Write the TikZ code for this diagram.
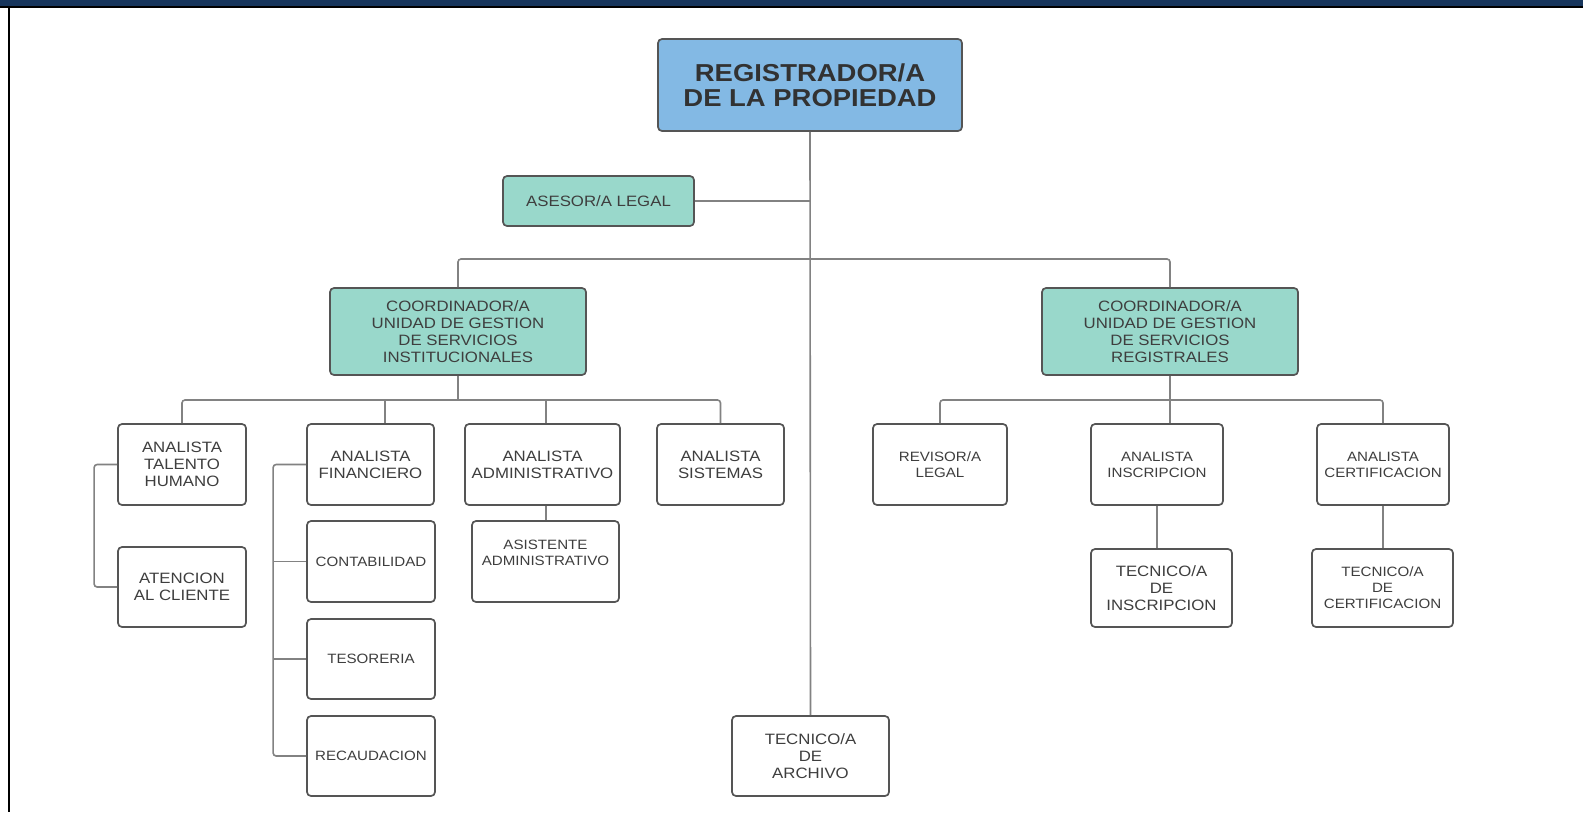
\documentclass[tikz,border=0pt]{standalone}
\usepackage{fontspec}
\setmainfont[FakeStretch=1.12]{Liberation Sans}
\definecolor{navy}{RGB}{23,53,92}
\definecolor{topblue}{RGB}{131,185,228}
\definecolor{teal}{RGB}{153,216,203}
\definecolor{edge}{RGB}{85,85,85}
\definecolor{wire}{RGB}{130,130,130}
\definecolor{ink}{RGB}{62,62,62}
\tikzset{
  box/.style={draw=edge, line width=1.7pt, rounded corners=4pt, fill=white, inner sep=0pt,
    align=center, text=ink},
  big/.style={font=\fontsize{15}{17.2}\selectfont},
  small/.style={font=\fontsize{13.5}{16}\selectfont},
  conn/.style={draw=wire, line width=1.6pt, rounded corners=3pt},
}
\begin{document}
\begin{tikzpicture}[x=1pt,y=-1pt]
\useasboundingbox (0,0) rectangle (1583,812);
\fill[white] (0,0) rectangle (1583,812);
\fill[navy] (0,0) rectangle (1583,6);
\fill[black] (0,6) rectangle (1583,8);
\fill[black] (8.3,6) rectangle (10,812);

% nodes
\node[box, fill=topblue, minimum width=304pt, minimum height=92pt,
  font=\bfseries\fontsize{24.5}{25.5}\selectfont, text={rgb,255:red,50;green,50;blue,50}] (reg) at (810,85) {REGISTRADOR/A\\DE LA PROPIEDAD};
\node[box, fill=teal, minimum width=191pt, minimum height=50pt, font=\fontsize{15}{16}\selectfont] (ase) at (598.5,201) {ASESOR/A LEGAL};
\node[box, fill=teal, minimum width=256pt, minimum height=87pt, big] (cl) at (458,331.5) {COORDINADOR/A\\UNIDAD DE GESTION\\DE SERVICIOS\\INSTITUCIONALES};
\node[box, fill=teal, minimum width=256pt, minimum height=87pt, big] (cr) at (1170,331.5) {COORDINADOR/A\\UNIDAD DE GESTION\\DE SERVICIOS\\REGISTRALES};

\node[box, minimum width=128pt, minimum height=81pt, big] (tal) at (182,464.5) {ANALISTA\\TALENTO\\HUMANO};
\node[box, minimum width=128pt, minimum height=80pt, big] (ate) at (182,587) {ATENCION\\AL CLIENTE};
\node[box, minimum width=127pt, minimum height=81pt, big] (fin) at (370.5,464.5) {ANALISTA\\FINANCIERO};
\node[box, minimum width=128pt, minimum height=81pt, small] (con) at (371,561.5) {CONTABILIDAD};
\node[box, minimum width=128pt, minimum height=80pt, small] (tes) at (371,659) {TESORERIA};
\node[box, minimum width=128pt, minimum height=80pt, small] (rec) at (371,756) {RECAUDACION};
\node[box, minimum width=155pt, minimum height=81pt, big] (adm) at (542.5,464.5) {ANALISTA\\ADMINISTRATIVO};
\node[box, minimum width=147pt, minimum height=81pt, small] (asi) at (545.5,561.5) {ASISTENTE\\ADMINISTRATIVO\\[1pt]};
\node[box, minimum width=127pt, minimum height=81pt, big] (sis) at (720.5,464.5) {ANALISTA\\SISTEMAS};
\node[box, minimum width=157pt, minimum height=80pt, big] (arc) at (810.5,756) {TECNICO/A\\DE\\ARCHIVO};

\node[box, minimum width=134pt, minimum height=81pt, small] (rev) at (940,464.5) {REVISOR/A\\LEGAL};
\node[box, minimum width=132pt, minimum height=81pt, small] (ins) at (1157,464.5) {ANALISTA\\INSCRIPCION};
\node[box, minimum width=132pt, minimum height=81pt, small] (cer) at (1383,464.5) {ANALISTA\\CERTIFICACION};
\node[box, minimum width=141pt, minimum height=78pt, big] (tins) at (1161.5,588) {TECNICO/A\\DE\\INSCRIPCION};
\node[box, minimum width=141pt, minimum height=78pt, small] (tcer) at (1382.5,588) {TECNICO/A\\DE\\CERTIFICACION};

% junction coordinates
\coordinate (busc) at (810,259);
\coordinate (lb) at (458,400);
\coordinate (rb) at (1170,400);
\coordinate (ab) at (810,201);

% connectors
\draw[conn] (reg.south) -- (arc.north);
\draw[conn] (ase.east) -- (ab);
\draw[conn] (cl.north) |- (busc) -| (cr.north);

\draw[conn] (cl.south) -- (lb);
\draw[conn] (tal.north) |- (lb) -| (sis.north);
\draw[conn] ([xshift=14.5pt]fin.north) -- ([xshift=14.5pt]fin.north |- lb);
\draw[conn] ([xshift=3.5pt]adm.north) -- ([xshift=3.5pt]adm.north |- lb);

\draw[conn] (tal.west) -- ++(-23,0) |- (ate.west);
\draw[conn] (fin.west) -- ++(-33,0) |- (rec.west);
\draw[conn] (con.west) -- ++(-33,0);
\draw[conn] (tes.west) -- ++(-33,0);
\draw[conn] ([xshift=3.5pt]adm.south) -- ([xshift=3.5pt]adm.south |- asi.north);

\draw[conn] (cr.south) -- (rb);
\draw[conn] (rev.north) |- (rb) -| (cer.north);
\draw[conn] ([xshift=13pt]ins.north) -- ([xshift=13pt]ins.north |- rb);
\draw[conn] (ins.south) -- (ins.south |- tins.north);
\draw[conn] (cer.south) -- (cer.south |- tcer.north);
\end{tikzpicture}
\end{document}
